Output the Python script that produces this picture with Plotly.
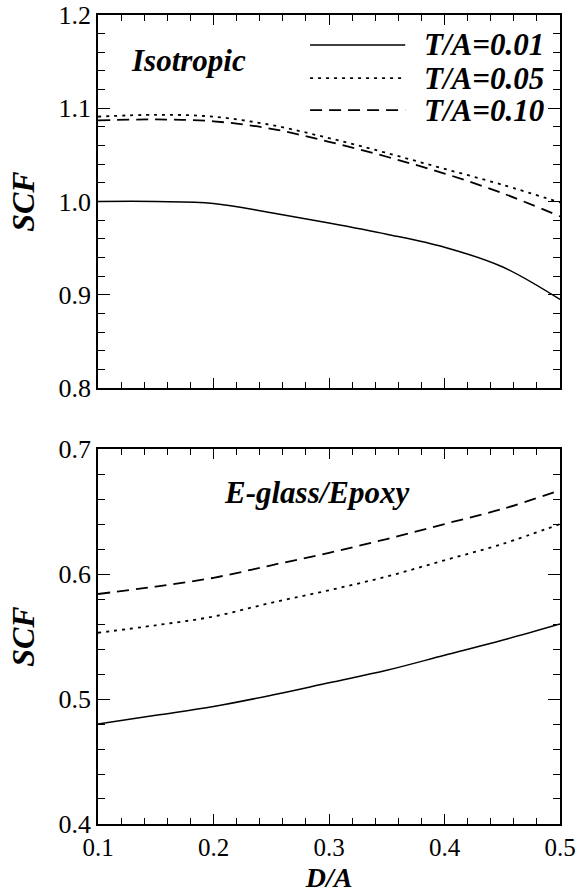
import plotly.graph_objects as go

# ---- data ----
da = [0.10, 0.15, 0.20, 0.25, 0.30, 0.35, 0.40, 0.45, 0.50]

iso_t001 = [1.000, 1.000, 0.998, 0.988, 0.977, 0.965, 0.951, 0.930, 0.895]
iso_t005 = [1.091, 1.093, 1.091, 1.082, 1.068, 1.052, 1.035, 1.018, 0.999]
iso_t010 = [1.087, 1.088, 1.086, 1.078, 1.064, 1.048, 1.030, 1.009, 0.984]

eg_t001 = [0.480, 0.487, 0.494, 0.503, 0.513, 0.523, 0.535, 0.547, 0.560]
eg_t005 = [0.553, 0.559, 0.566, 0.577, 0.587, 0.598, 0.611, 0.624, 0.640]
eg_t010 = [0.584, 0.590, 0.597, 0.607, 0.617, 0.628, 0.640, 0.652, 0.667]

series_names = ["T/A=0.01", "T/A=0.05", "T/A=0.10"]
dash_styles = ["solid", "3px,5px", "12px,7px"]
line_widths = [1.5, 1.8, 1.8]

x_ticks = [0.1, 0.2, 0.3, 0.4, 0.5]
top_ticks = [0.8, 0.9, 1.0, 1.1, 1.2]
bot_ticks = [0.4, 0.5, 0.6, 0.7]

SERIF = "Liberation Serif"

fig = go.Figure()

for vals, name, dsh, lw in zip([iso_t001, iso_t005, iso_t010], series_names, dash_styles, line_widths):
    fig.add_trace(go.Scatter(x=da, y=vals, mode="lines", name=name, showlegend=False,
                             line=dict(color="black", width=lw, dash=dsh, shape="spline"),
                             xaxis="x2", yaxis="y2"))
for vals, name, dsh, lw in zip([eg_t001, eg_t005, eg_t010], series_names, dash_styles, line_widths):
    fig.add_trace(go.Scatter(x=da, y=vals, mode="lines", name=name, showlegend=False,
                             line=dict(color="black", width=lw, dash=dsh, shape="spline"),
                             xaxis="x", yaxis="y"))

common_x = dict(range=[0.1, 0.5], tickvals=x_ticks, ticks="inside", ticklen=10, tickwidth=1,
                tickcolor="black", showline=True, linecolor="black", linewidth=1.5,
                mirror="ticks", showgrid=False, zeroline=False, automargin=False,
                minor=dict(dtick=0.02, ticks="inside", ticklen=6, tickcolor="black", tickwidth=1, showgrid=False),
                tickfont=dict(family=SERIF, size=25, color="black"))
common_y = dict(ticks="inside", ticklen=12, tickwidth=1, tickcolor="black", showline=True,
                linecolor="black", linewidth=1.5, mirror="ticks", showgrid=False, zeroline=False,
                automargin=False,
                minor=dict(dtick=0.02, ticks="inside", ticklen=7, tickcolor="black", tickwidth=1, showgrid=False),
                tickfont=dict(family=SERIF, size=26, color="black"),
                title=dict(text="<b><i>SCF</i></b>", font=dict(family=SERIF, size=32, color="black"), standoff=14))

fig.update_layout(
    width=579, height=894,
    margin=dict(l=98, r=19, t=15, b=70),
    paper_bgcolor="white", plot_bgcolor="white",
    showlegend=False,
    xaxis=dict(**common_x, domain=[0, 1], anchor="y",
               title=dict(text="<b><i>D/A</i></b>", font=dict(family=SERIF, size=28, color="black"), standoff=8)),
    yaxis=dict(**common_y, domain=[0, 0.4635], anchor="x", range=[0.4, 0.7], tickvals=bot_ticks,
               ticktext=[f"{v:.1f}" for v in bot_ticks]),
    xaxis2=dict(**common_x, domain=[0, 1], anchor="y2", showticklabels=False, matches="x"),
    yaxis2=dict(**common_y, domain=[0.5389, 1], anchor="x2", range=[0.8, 1.2], tickvals=top_ticks,
                ticktext=[f"{v:.1f}" for v in top_ticks]),
)

ann_font = dict(family=SERIF, size=31, color="black")
fig.add_annotation(text="<b><i>Isotropic</i></b>", xref="x2 domain", yref="y2 domain",
                   x=0.195, y=0.879, xanchor="center", yanchor="middle", showarrow=False, font=ann_font)
fig.add_annotation(text="<b><i>E-glass/Epoxy</i></b>", xref="x domain", yref="y domain",
                   x=0.474, y=0.885, xanchor="center", yanchor="middle", showarrow=False, font=ann_font)

# manual legend in the top panel
leg_y = [0.9196, 0.831, 0.745]
for name, dsh, lw, yy in zip(series_names, dash_styles, line_widths, leg_y):
    fig.add_shape(type="line", xref="x2 domain", yref="y2 domain", x0=0.459, x1=0.665, y0=yy, y1=yy,
                  line=dict(color="black", width=lw, dash=dsh))
    fig.add_annotation(text=f"<b><i>{name}</i></b>", xref="x2 domain", yref="y2 domain",
                       x=0.701, y=yy, xanchor="left", yanchor="middle", showarrow=False, font=ann_font)

fig.write_html("out.html")
